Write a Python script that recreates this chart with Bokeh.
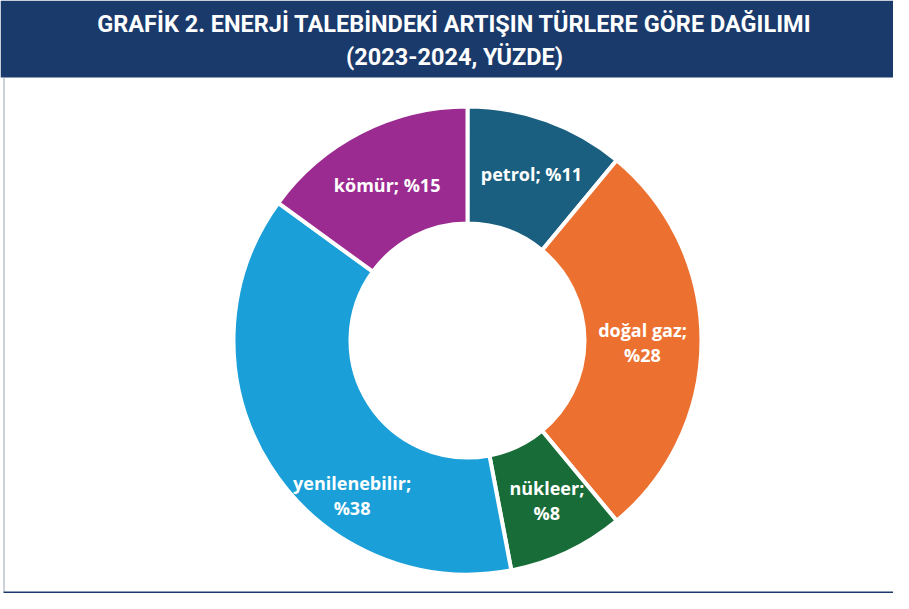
import math
from bokeh.plotting import figure
from bokeh.models import Range1d, ColumnDataSource
from bokeh.core.properties import value
from bokeh.embed import file_html
from bokeh.resources import INLINE

# ---- data ----
categories = ["petrol", "doğal gaz", "nükleer", "yenilenebilir", "kömür"]
shares = [11, 28, 8, 38, 15]
colors = ["#1a5f80", "#ec7131", "#176c38", "#1a9fd8", "#9c2b91"]
label_lines = [["petrol; %11"], ["doğal gaz;", "%28"], ["nükleer;", "%8"],
               ["yenilenebilir;", "%38"], ["kömür; %15"]]
title_lines = ["GRAFİK 2. ENERJİ TALEBİNDEKİ ARTIŞIN TÜRLERE GÖRE DAĞILIMI",
               "(2023-2024, YÜZDE)"]

W, H = 893, 593
p = figure(width=W, height=H, output_backend="svg", toolbar_location=None,
           x_range=Range1d(0, W), y_range=Range1d(0, H), min_border=0,
           background_fill_color="white", border_fill_color="white")
p.axis.visible = False
p.grid.visible = False
p.outline_line_color = None

def Y(top):
    return H - top

# banner
BANNER_H = 77
p.quad(left=[0], right=[W], top=[H], bottom=[Y(BANNER_H)], fill_color="#1a3a6b", line_color=None)
p.text(x=[454, 454], y=[Y(23), Y(56)], text=title_lines,
       text_color="white", text_font=value("Roboto"), text_font_style="bold",
       text_font_size="23.5px", text_align="center", text_baseline="middle")

# frame lines
p.segment(x0=[3.5], y0=[Y(BANNER_H)], x1=[3.5], y1=[2], line_color="#9aa3ad", line_width=1)
p.segment(x0=[3], y0=[1], x1=[W], y1=[1], line_color="#1a3a6b", line_width=2)

# donut
cx, cy = 467, Y(340)
r_out, r_in = 234, 117
total = sum(shares)
starts, ends, mids = [], [], []
cum = 0
for s in shares:
    a0 = math.pi / 2 - 2 * math.pi * (cum + s) / total
    a1 = math.pi / 2 - 2 * math.pi * cum / total
    starts.append(a0); ends.append(a1); mids.append((a0 + a1) / 2)
    cum += s

src = ColumnDataSource(dict(start=starts, end=ends, color=colors, cat=categories))
p.annular_wedge(x=cx, y=cy, inner_radius=r_in, outer_radius=r_out,
                start_angle="start", end_angle="end", fill_color="color",
                line_color="white", line_width=4, source=src)

# labels
label_r = 177
label_shift = {"yenilenebilir": (34, -60), "petrol": (4, 0), "kömür": (0, -2),
               "doğal gaz": (-2, -2), "nükleer": (4, 0)}
xs, ys, ts = [], [], []
for cat, m, lines in zip(categories, mids, label_lines):
    lx = cx + label_r * math.cos(m)
    ly = cy + label_r * math.sin(m)
    dx, dy = label_shift.get(cat, (0, 0))
    lx += dx; ly += dy
    n = len(lines)
    for i, t in enumerate(lines):
        xs.append(lx)
        ys.append(ly + ((n - 1) / 2 - i) * 24.5)
        ts.append(t)
p.text(x=xs, y=ys, text=ts, text_color="white", text_font=value("Open Sans"),
       text_font_style="bold", text_font_size="18px", text_align="center",
       text_baseline="middle")

open("out.html", "w").write(file_html(p, INLINE))
